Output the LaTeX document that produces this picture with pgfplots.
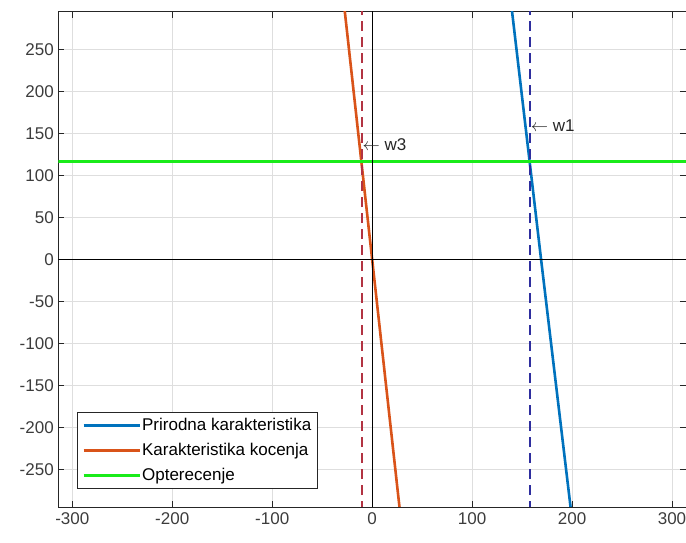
\documentclass[border=0pt]{standalone}
\usepackage{pgfplots}
\pgfplotsset{compat=1.18}
\usepackage{fontspec}
\setmainfont{Liberation Sans}
\definecolor{mblue}{rgb}{0,0.447,0.741}
\definecolor{morange}{rgb}{0.85,0.325,0.098}
\definecolor{mgreen}{rgb}{0.1,0.92,0.1}
\definecolor{dblue}{rgb}{0.18,0.18,0.62}
\definecolor{dred}{rgb}{0.7,0.2,0.26}
\definecolor{axgray}{rgb}{0.15,0.15,0.15}
\begin{document}
\begin{tikzpicture}
\begin{axis}[
  at={(0,0)}, anchor=south west,
  scale only axis,
  width=627.7pt, height=495.3pt,
  xmin=-314, xmax=314, ymin=-295, ymax=295,
  xtick={-300,-200,...,300}, ytick={-250,-200,...,250},
  tick align=inside,
  major tick length=6pt,
  grid=major,
  grid style={color=black!13, line width=0.6pt},
  axis line style={color=axgray, line width=0.9pt},
  tick style={color=axgray, line width=0.9pt},
  ticklabel style={font=\fontsize{17}{20}\selectfont, color=axgray!90},
  /pgf/number format/assume math mode=true,
  xticklabel style={yshift=-2pt},
  yticklabel style={xshift=-1pt},
  legend style={at={(rel axis cs:0.0293,0.0357)}, anchor=south west,
    font=\fontsize{17}{21}\selectfont, draw=axgray, line width=0.9pt,
    inner xsep=5pt, inner ysep=4pt, row sep=7pt,
    nodes={inner sep=1pt, text height=12.5pt, text depth=3.5pt}},
  legend cell align=left,
  legend image code/.code={\draw[#1, line width=3pt] (0pt,0pt) -- (56pt,0pt);},
  clip=true,
]
\addplot[mblue, line width=2.6pt] coordinates {(139.5,300) (169,0) (199,-300)};
\addlegendentry{Prirodna karakteristika\hspace{6pt}}
\addplot[morange, line width=2.6pt] coordinates {(-27.8,300) (0,0) (27.8,-300)};
\addlegendentry{Karakteristika kocenja}
\addplot[mgreen, line width=3pt] coordinates {(-320,116.5) (320,116.5)};
\addlegendentry{Opterecenje}
\addplot[black, line width=0.8pt, forget plot] coordinates {(0,-300) (0,300)};
\addplot[black, line width=0.8pt, forget plot] coordinates {(-320,0) (320,0)};
\addplot[dblue, line width=1.3pt, dash pattern=on 10pt off 6pt, forget plot] coordinates {(157.8,-300) (157.8,300)};
\addplot[dred, line width=1.3pt, dash pattern=on 10pt off 6pt, forget plot] coordinates {(-10.2,-300) (-10.2,300)};
\node[anchor=west, inner sep=0pt, font=\fontsize{17}{20}\selectfont, color=axgray] at (axis cs:158.5,158.7) {$\leftarrow$ w1};
\node[anchor=west, inner sep=0pt, font=\fontsize{17}{20}\selectfont, color=axgray] at (axis cs:-9.8,136.4) {$\leftarrow$ w3};
\end{axis}
\pgfresetboundingbox
\useasboundingbox (-58.3pt,-36pt) rectangle (627.7pt,507pt);
\end{tikzpicture}
\end{document}
